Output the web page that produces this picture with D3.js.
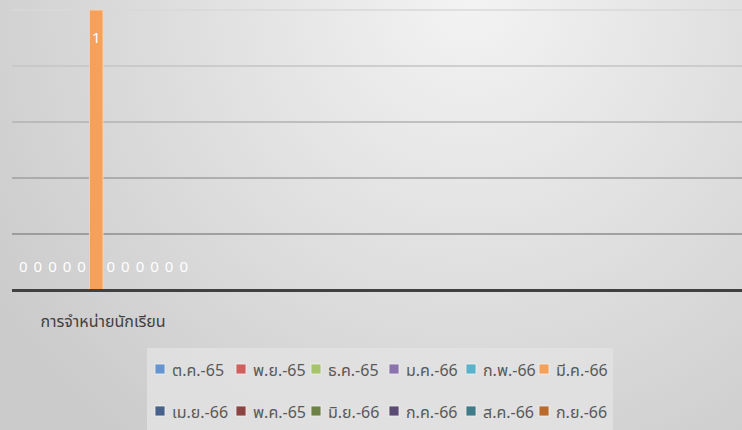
<!DOCTYPE html>
<html>
<head>
<meta charset="utf-8">
<script src="https://cdn.jsdelivr.net/npm/d3@7"></script>
<style>
html,body{margin:0;padding:0;}
svg{display:block;}
</style>
</head>
<body>
<svg id="chart" width="742" height="430"></svg>
<script>
const categories = ["การจำหน่ายนักเรียน"];
const seriesNames = ["ต.ค.-65","พ.ย.-65","ธ.ค.-65","ม.ค.-66","ก.พ.-66","มี.ค.-66",
                     "เม.ย.-66","พ.ค.-65","มิ.ย.-66","ก.ค.-66","ส.ค.-66","ก.ย.-66"];
const seriesValues = [0,0,0,0,0,1,0,0,0,0,0,0];
const seriesColors = ["#6596cf","#d0605d","#a6c46a","#8b73ad","#5bb3cb","#f5a15b",
                      "#48618a","#8b4442","#6d8345","#5b4a73","#3f7b89","#ba6a2c"];
const yTicks = [0,0.2,0.4,0.6,0.8,1];

const W = 742, H = 430;
const svg = d3.select("#chart");
const font = "'Noto Sans Thai','Noto Sans','DejaVu Sans',sans-serif";

// background
const defs = svg.append("defs");
const rg = defs.append("radialGradient").attr("id","bg")
  .attr("gradientUnits","userSpaceOnUse")
  .attr("cx",470).attr("cy",0).attr("r",560);
rg.append("stop").attr("offset","0%").attr("stop-color","#f3f3f3");
rg.append("stop").attr("offset","100%").attr("stop-color","#cbcbcb");
svg.append("rect").attr("width",W).attr("height",H).attr("fill","url(#bg)");

const y = d3.scaleLinear().domain([0,1]).range([290,10]);
const x0 = d3.scaleBand().domain(categories).range([16,191]).padding(0);
const x1 = d3.scaleBand().domain(seriesNames).range([0,x0.bandwidth()]).padding(0);

// gridlines
const gridColor = d3.scaleLinear().domain([0.2,1]).range(["#8c8c8c","#d8d8d8"]);
svg.append("g").selectAll("line").data(yTicks.filter(t=>t>0)).join("line")
  .attr("x1",12).attr("x2",W)
  .attr("y1",d=>y(d)).attr("y2",d=>y(d))
  .attr("stroke",d=>gridColor(d)).attr("stroke-width",1.6);

// bars
const data = seriesNames.map((s,i)=>({cat:categories[0],s,v:seriesValues[i],c:seriesColors[i]}));
const g = svg.append("g");
g.selectAll("rect").data(data.filter(d=>d.v>0)).join("rect")
  .attr("x",d=>x0(d.cat)+x1(d.s)+0.5)
  .attr("width",x1.bandwidth()-1)
  .attr("y",d=>y(d.v))
  .attr("height",d=>y(0)-y(d.v))
  .attr("fill",d=>d.c)
  .attr("stroke","#f8d2b0").attr("stroke-width",1);

// labels
g.selectAll("text").data(data).join("text")
  .attr("x",d=>x0(d.cat)+x1(d.s)+x1.bandwidth()/2)
  .attr("y",d=>d.v>0 ? y(d.v)+33 : y(0)-18)
  .attr("text-anchor","middle")
  .attr("font-family",font).attr("font-size",15)
  .attr("fill","#ffffff")
  .text(d=>d.v);

// baseline
svg.append("line").attr("x1",12).attr("x2",W).attr("y1",y(0)+0.5).attr("y2",y(0)+0.5)
  .attr("stroke","#404040").attr("stroke-width",3);

// category label
svg.append("g").selectAll("text").data(categories).join("text")
  .attr("x",d=>x0(d)+x0.bandwidth()/2-0.5)
  .attr("y",327)
  .attr("text-anchor","middle")
  .attr("font-family",font).attr("font-size",16)
  .attr("fill","#404040")
  .text(d=>d);

// legend
svg.append("rect").attr("x",147).attr("y",348).attr("width",466).attr("height",82)
  .attr("fill","#e2e2e2").attr("opacity",0.85);
const colX = [155,236,311,389,466,539];
const rowY = [370,412];
const lg = svg.append("g").selectAll("g").data(seriesNames).join("g")
  .attr("transform",(d,i)=>`translate(${colX[i%6]},${rowY[Math.floor(i/6)]})`);
lg.append("rect").attr("x",0).attr("y",-6).attr("width",10).attr("height",10)
  .attr("fill",(d,i)=>seriesColors[i]).attr("stroke","#f0f0f0").attr("stroke-width",0.8);
lg.append("text").attr("x",17).attr("y",6)
  .attr("font-family",font).attr("font-size",16)
  .attr("fill","#595959").text(d=>d);
</script>
</body>
</html>
